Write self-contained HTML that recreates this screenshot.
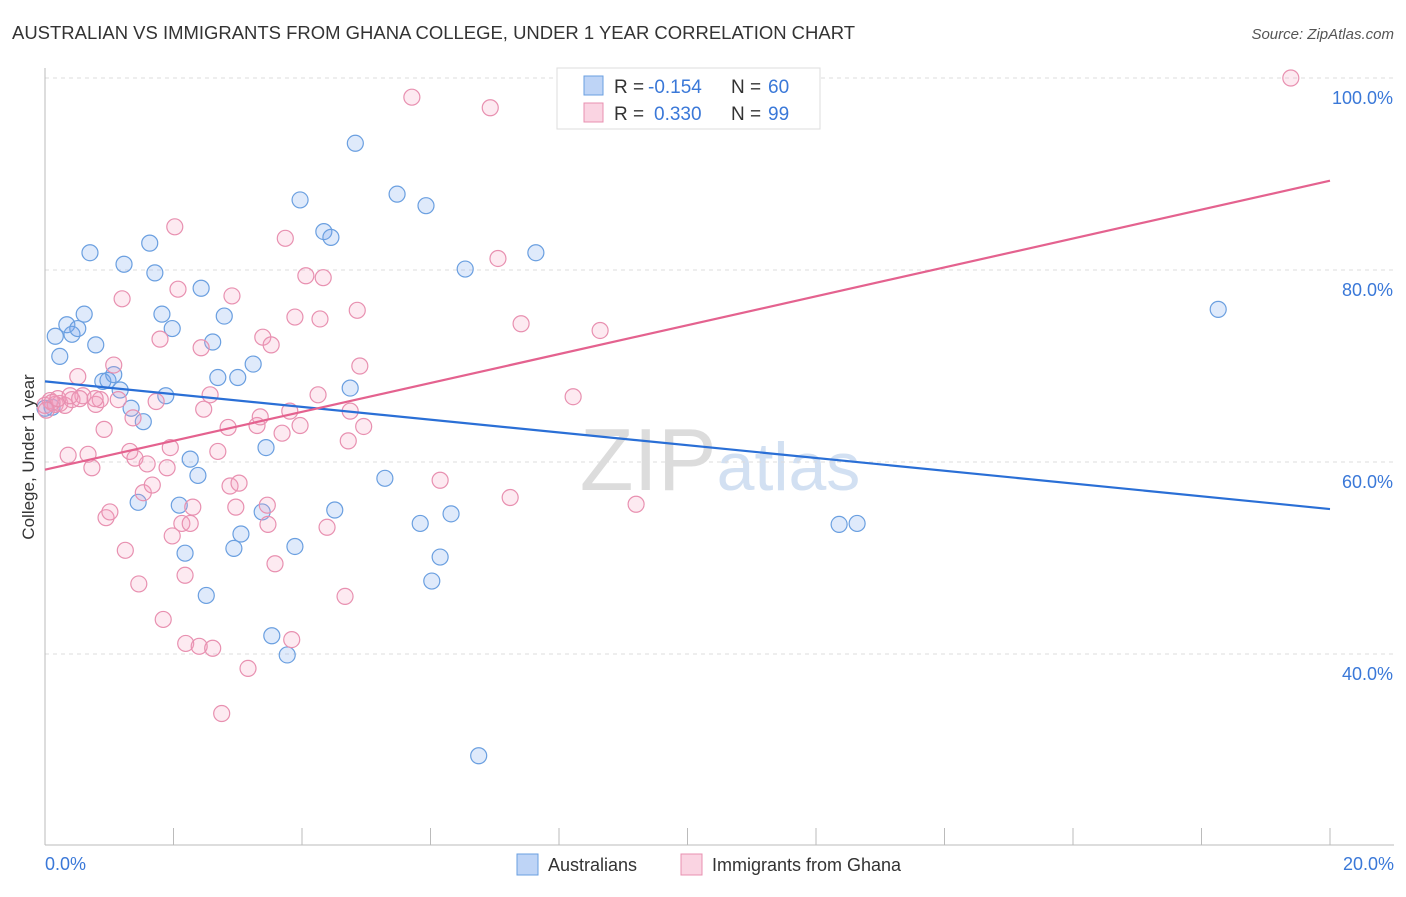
<!DOCTYPE html>
<html><head><meta charset="utf-8"><style>
body{margin:0;background:#fff;font-family:"Liberation Sans",sans-serif}
svg text{font-family:"Liberation Sans",sans-serif}
</style></head><body>
<svg id="chart" width="1406" height="892" viewBox="0 0 1406 892" xmlns="http://www.w3.org/2000/svg">
<text x="12" y="39" font-size="18" fill="#333" textLength="843" lengthAdjust="spacingAndGlyphs">AUSTRALIAN VS IMMIGRANTS FROM GHANA COLLEGE, UNDER 1 YEAR CORRELATION CHART</text>
<text x="1394" y="39" font-size="15" fill="#555" text-anchor="end" font-style="italic">Source: ZipAtlas.com</text>
<text x="720" y="490" font-size="88" fill="#ddd" text-anchor="middle" font-family="Liberation Serif"><tspan fill="#dcdcdc">ZIP</tspan><tspan fill="#d2e0f2" font-family="Liberation Sans" font-size="68">atlas</tspan></text>
<g id="grid"></g>
<g id="axes"></g>
<g id="pts"></g>
<g id="lines"></g>
<text transform="translate(34,457) rotate(-90)" font-size="17" fill="#333" text-anchor="middle">College, Under 1 year</text>
<g>
<rect x="557" y="68" width="263" height="61" fill="#fff" stroke="#ddd"/>
<rect x="584" y="76" width="19" height="19" fill="rgba(110,160,235,0.45)" stroke="#6a9fe0"/>
<rect x="584" y="103" width="19" height="19" fill="rgba(245,160,190,0.45)" stroke="#e890b0"/>
<text x="614" y="93" font-size="19" fill="#333">R =</text>
<text x="648" y="93" font-size="19" fill="#3a78d8">-0.154</text>
<text x="731" y="93" font-size="19" fill="#333">N =</text>
<text x="768" y="93" font-size="19" fill="#3a78d8">60</text>
<text x="614" y="120" font-size="19" fill="#333">R =</text>
<text x="654" y="120" font-size="19" fill="#3a78d8">0.330</text>
<text x="731" y="120" font-size="19" fill="#333">N =</text>
<text x="768" y="120" font-size="19" fill="#3a78d8">99</text>
</g>
<g>
<rect x="517" y="854" width="21" height="21" fill="rgba(110,160,235,0.45)" stroke="#6a9fe0"/>
<text x="548" y="871" font-size="18" fill="#333">Australians</text>
<rect x="681" y="854" width="21" height="21" fill="rgba(245,160,190,0.45)" stroke="#e890b0"/>
<text x="712" y="871" font-size="18" fill="#333">Immigrants from Ghana</text>
</g>
</svg>
<script>
const xTicks=[0,2,4,6,8,10,12,14,16,18,20];
const yTicks=[40,60,80,100];
const blueX=[0.16,0.23,0.34,0.42,0.51,0.61,0.7,0.79,0.9,0.98,1.07,1.17,1.23,1.34,1.45,1.53,1.63,1.71,1.82,1.88,1.98,2.09,2.18,2.26,2.38,2.43,2.51,2.61,2.69,2.79,2.94,3.0,3.05,3.24,3.38,3.44,3.53,3.77,3.89,3.97,4.34,4.45,4.51,4.75,4.83,5.29,5.48,5.84,5.93,6.02,6.15,6.32,6.54,6.75,7.64,12.36,12.64,18.26,0.11,0.0];
const blueY=[73.1,71.0,74.3,73.3,73.9,75.4,81.8,72.2,68.4,68.5,69.1,67.5,80.6,65.6,55.8,64.2,82.8,79.7,75.4,66.9,73.9,55.5,50.5,60.3,58.6,78.1,46.1,72.5,68.8,75.2,51.0,68.8,52.5,70.2,54.8,61.5,41.9,39.9,51.2,87.3,84.0,83.4,55.0,67.7,93.2,58.3,87.9,53.6,86.7,47.6,50.1,54.6,80.1,29.4,81.8,53.5,53.6,75.9,65.7,65.6];
const pinkX=[0.0,0.08,0.16,0.23,0.31,0.36,0.42,0.51,0.59,0.67,0.73,0.79,0.86,0.92,0.95,1.01,1.07,1.14,1.2,1.25,1.32,1.37,1.4,1.46,1.53,1.59,1.67,1.73,1.79,1.84,1.9,1.95,1.98,2.02,2.07,2.13,2.18,2.19,2.26,2.3,2.4,2.43,2.47,2.57,2.61,2.69,2.75,2.85,2.88,2.91,2.97,3.02,3.16,3.3,3.35,3.39,3.46,3.47,3.52,3.58,3.69,3.74,3.81,3.84,3.89,3.97,4.06,4.25,4.28,4.33,4.39,4.67,4.72,4.75,4.86,4.9,4.96,5.71,6.15,6.93,7.05,7.24,7.41,8.22,8.64,9.2,19.39,0.11,0.2,0.39,0.54,0.78,0.02];
const pinkY=[65.9,66.4,66.0,66.1,65.9,60.7,66.5,68.9,66.9,60.8,59.4,66.0,66.5,63.4,54.2,54.8,70.1,66.5,77.0,50.8,61.1,64.6,60.4,47.3,56.8,59.8,57.6,66.3,72.8,43.6,59.4,61.5,52.3,84.5,78.0,53.6,48.2,41.1,53.6,55.3,40.8,71.9,65.5,67.0,40.6,61.1,33.8,63.6,57.5,77.3,55.3,57.8,38.5,63.8,64.7,73.0,55.5,53.5,72.2,49.4,63.0,83.3,65.3,41.5,75.1,63.8,79.4,67.0,74.9,79.2,53.2,46.0,62.2,65.3,75.8,70.0,63.7,98.0,58.1,96.9,81.2,56.3,74.4,66.8,73.7,55.6,100.0,66.2,66.6,66.9,66.6,66.6,65.4];
const blueLine=[68.4,55.1];
const pinkLine=[59.2,89.3];
const X=v=>45+v*64.25, Y=v=>78+(100-v)*9.6;
const NS="http://www.w3.org/2000/svg";
function mk(tag,attrs,parent){const e=document.createElementNS(NS,tag);for(const k in attrs)e.setAttribute(k,attrs[k]);document.getElementById(parent).appendChild(e);return e;}
yTicks.forEach(t=>{
 const g=mk('line',{x1:45,x2:1394,y1:Y(t),y2:Y(t),stroke:'#ddd','stroke-dasharray':'4,4'},'grid');
 
 
 const l=mk('text',{x:1393,y:Y(t)+26,'font-size':18,fill:'#3a78d8','text-anchor':'end'},'grid');
 l.textContent=t.toFixed(1)+'%';
 
 
});
const ax=mk('line',{x1:45,x2:1394,y1:845,y2:845,stroke:'#bbb'},'axes');


const ay=mk('line',{x1:45,x2:45,y1:68,y2:845,stroke:'#bbb'},'axes');


xTicks.forEach(t=>{
 const tk=mk('line',{x1:X(t),x2:X(t),y1:828,y2:845,stroke:'#bbb'},'axes');
 
 
});
[[0,'start'],[20,'end']].forEach(([t,a])=>{
 const l=mk('text',{x:t===0?45:1394,y:870,'font-size':18,fill:'#3a78d8','text-anchor':a},'axes');
 l.textContent=t.toFixed(1)+'%';
 
 
});
blueX.forEach((x,i)=>{
 const c=mk('circle',{cx:X(x),cy:Y(blueY[i]),r:8,fill:'rgba(110,160,235,0.22)',stroke:'#6a9fe0','stroke-width':1.2},'pts');
 
 
});
pinkX.forEach((x,i)=>{
 const c=mk('circle',{cx:X(x),cy:Y(pinkY[i]),r:8,fill:'rgba(245,160,190,0.22)',stroke:'#e890b0','stroke-width':1.2},'pts');
 
 
});
const bl=mk('line',{x1:X(0),x2:X(20),y1:Y(blueLine[0]),y2:Y(blueLine[1]),stroke:'#2a6fd6','stroke-width':2.2},'lines');


const pl=mk('line',{x1:X(0),x2:X(20),y1:Y(pinkLine[0]),y2:Y(pinkLine[1]),stroke:'#e4628f','stroke-width':2.2},'lines');


</script>
</body></html>
